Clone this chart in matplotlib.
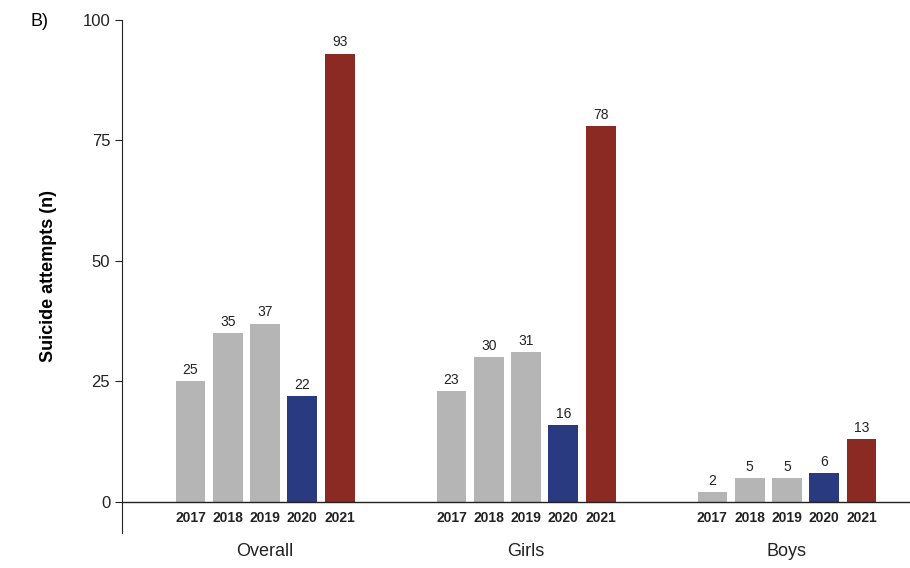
import numpy as np
import matplotlib.pyplot as plt

plt.rcParams['font.family'] = ['Liberation Sans', 'DejaVu Sans']

# datos
groups = ['Overall', 'Girls', 'Boys']
years = ['2017', '2018', '2019', '2020', '2021']
overall = [25, 35, 37, 22, 93]
girls = [23, 30, 31, 16, 78]
boys = [2, 5, 5, 6, 13]
year_colors = ['#b5b5b5', '#b5b5b5', '#b5b5b5', '#2a3a80', '#8a2a22']

series = [overall, girls, boys]

fig = plt.figure(figsize=(9.1, 5.68), dpi=100)
ax = fig.add_axes([0.134, 0.062, 0.866, 0.903])

gap = 7  # 5 barras + 2 de separacion
for g, vals in enumerate(series):
    x = g * gap + np.arange(len(years))
    ax.bar(x, vals, width=0.8, color=year_colors, zorder=2)
    for xi, v in zip(x, vals):
        ax.annotate(str(v), (xi, v), xytext=(0, 3), textcoords='offset points',
                    ha='center', va='bottom', fontsize=10, color='#222222')
    for xi, yr in zip(x, years):
        ax.text(xi, -3.4, yr, ha='center', va='center', fontsize=10,
                fontweight='bold', color='#222222')
    ax.text(g * gap + 2, -10.3, groups[g], ha='center', va='center',
            fontsize=13, color='#222222', clip_on=False)

ax.axhline(0, color='#222222', lw=1.0, zorder=3)
ax.set_xlim(-1.84, 19.3)
ax.set_ylim(-6.4, 100)
ax.set_yticks([0, 25, 50, 75, 100])
ax.tick_params(axis='y', labelsize=12, length=5, colors='#222222')
ax.set_xticks([])
for s in ['top', 'right', 'bottom']:
    ax.spines[s].set_visible(False)
ax.spines['left'].set_color('#222222')
ax.set_ylabel('Suicide attempts (n)', fontsize=13, fontweight='bold', labelpad=18)

fig.text(0.033, 0.962, 'B)', fontsize=13, ha='left', va='center')

plt.savefig('out.png', dpi=100)
